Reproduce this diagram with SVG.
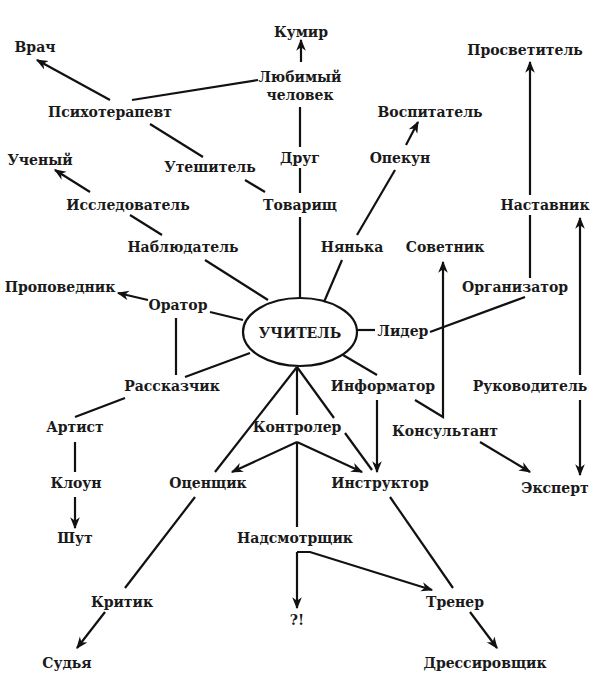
<svg xmlns="http://www.w3.org/2000/svg" width="600" height="677" viewBox="0 0 600 677">
<defs>
<marker id="a" viewBox="0 0 10 10" refX="9" refY="5" markerWidth="12" markerHeight="12" markerUnits="userSpaceOnUse" orient="auto"><path d="M0,1 L10,5 L0,9 L3,5 Z" fill="#111"/></marker>
<style>
text{font-family:"DejaVu Serif","Liberation Serif",serif;font-weight:bold;font-size:14px;fill:#1a1a1a;text-anchor:middle}
#c line,#c path{stroke:#111;stroke-width:2.2;fill:none}
.ar{marker-end:url(#a)}
</style>
</defs>
<rect width="600" height="677" fill="#fff"/>
<g id="c">
<line class="ar" x1="301" y1="62" x2="301" y2="40"/>
<line class="ar" x1="110" y1="100" x2="37" y2="60"/>
<line x1="132" y1="100" x2="258" y2="80"/>
<line x1="300" y1="107" x2="300" y2="147"/>
<line x1="300" y1="168" x2="300" y2="193"/>
<line x1="150" y1="124" x2="203" y2="157"/>
<line x1="245" y1="180" x2="265" y2="192"/>
<line class="ar" x1="90" y1="192" x2="55" y2="170"/>
<line x1="130" y1="215" x2="162" y2="235"/>
<line x1="205" y1="260" x2="268" y2="300"/>
<line x1="300" y1="217" x2="300" y2="298"/>
<line x1="324" y1="302" x2="342" y2="260"/>
<line x1="357" y1="235" x2="395" y2="170"/>
<line class="ar" x1="406" y1="145" x2="418" y2="122"/>
<line class="ar" x1="148" y1="300" x2="118" y2="293"/>
<line x1="210" y1="312" x2="243" y2="320"/>
<line x1="176" y1="318" x2="176" y2="375"/>
<line x1="250" y1="353" x2="185" y2="377"/>
<line x1="125" y1="398" x2="75" y2="417"/>
<line x1="75" y1="442" x2="75" y2="472"/>
<line class="ar" x1="75" y1="497" x2="75" y2="528"/>
<line x1="297" y1="367" x2="215" y2="472"/>
<line x1="297" y1="367" x2="297" y2="415"/>
<line x1="297" y1="367" x2="334" y2="418"/>
<line x1="345" y1="433" x2="372" y2="470"/>
<line class="ar" x1="297" y1="442" x2="232" y2="472"/>
<line class="ar" x1="297" y1="442" x2="362" y2="472"/>
<line x1="297" y1="442" x2="297" y2="527"/>
<line class="ar" x1="377" y1="400" x2="377" y2="472"/>
<line x1="343" y1="355" x2="377" y2="375"/>
<path d="M415,400 L443,417 L443,262" class="ar"/>
<line x1="357" y1="330" x2="375" y2="330"/>
<line x1="430" y1="332" x2="525" y2="297"/>
<line x1="530" y1="278" x2="530" y2="215"/>
<line class="ar" x1="530" y1="195" x2="530" y2="62"/>
<line class="ar" x1="580" y1="375" x2="580" y2="218"/>
<line class="ar" x1="580" y1="400" x2="580" y2="475"/>
<line class="ar" x1="480" y1="442" x2="530" y2="472"/>
<line x1="390" y1="497" x2="453" y2="588"/>
<line class="ar" x1="297" y1="552" x2="297" y2="608"/>
<path class="ar" d="M297,552 L310,552 L432,590"/>
<line class="ar" x1="470" y1="612" x2="497" y2="648"/>
<line x1="195" y1="497" x2="125" y2="588"/>
<line class="ar" x1="105" y1="612" x2="77" y2="648"/>
</g>
<g id="teacher"><ellipse cx="300" cy="332" rx="57" ry="34" fill="none" stroke="#111" stroke-width="2.2"/><text x="300" y="338" font-size="15">УЧИТЕЛЬ</text></g>
<g id="n1"><text x="301" y="37">Кумир</text></g>
<g id="n2"><text x="35" y="52">Врач</text></g>
<g id="n3"><text x="300" y="82">Любимый</text><text x="300" y="100">человек</text></g>
<g id="n4"><text x="110" y="117">Психотерапевт</text></g>
<g id="n5"><text x="525" y="55">Просветитель</text></g>
<g id="n6"><text x="430" y="117">Воспитатель</text></g>
<g id="n7"><text x="40" y="165">Ученый</text></g>
<g id="n8"><text x="210" y="172">Утешитель</text></g>
<g id="n9"><text x="300" y="163">Друг</text></g>
<g id="n10"><text x="400" y="163">Опекун</text></g>
<g id="n11"><text x="128" y="210">Исследователь</text></g>
<g id="n12"><text x="300" y="210">Товарищ</text></g>
<g id="n13"><text x="545" y="210">Наставник</text></g>
<g id="n14"><text x="183" y="252">Наблюдатель</text></g>
<g id="n15"><text x="352" y="252">Нянька</text></g>
<g id="n16"><text x="445" y="252">Советник</text></g>
<g id="n17"><text x="515" y="292">Организатор</text></g>
<g id="n18"><text x="60" y="292">Проповедник</text></g>
<g id="n19"><text x="178" y="310">Оратор</text></g>
<g id="n20"><text x="403" y="336">Лидер</text></g>
<g id="n21"><text x="172" y="391">Рассказчик</text></g>
<g id="n22"><text x="383" y="391">Информатор</text></g>
<g id="n23"><text x="530" y="391">Руководитель</text></g>
<g id="n24"><text x="75" y="432">Артист</text></g>
<g id="n25"><text x="297" y="432">Контролер</text></g>
<g id="n26"><text x="445" y="436">Консультант</text></g>
<g id="n27"><text x="76" y="488">Клоун</text></g>
<g id="n28"><text x="208" y="488">Оценщик</text></g>
<g id="n29"><text x="380" y="488">Инструктор</text></g>
<g id="n30"><text x="555" y="493">Эксперт</text></g>
<g id="n31"><text x="75" y="543">Шут</text></g>
<g id="n32"><text x="295" y="543">Надсмотрщик</text></g>
<g id="n33"><text x="122" y="607">Критик</text></g>
<g id="n34"><text x="297" y="625">?!</text></g>
<g id="n35"><text x="455" y="607">Тренер</text></g>
<g id="n36"><text x="67" y="668">Судья</text></g>
<g id="n37"><text x="485" y="668">Дрессировщик</text></g>
</svg>
